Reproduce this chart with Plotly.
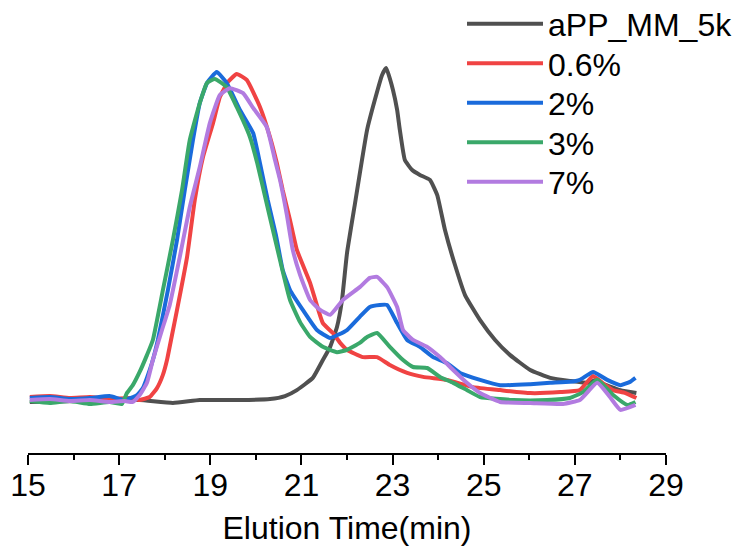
import plotly.graph_objects as go

# ---- data (elution time in min, normalized detector signal) ----
series_names = ["aPP_MM_5k", "0.6%", "2%", "3%", "7%"]
series_colors = ["#505050", "#F04343", "#1A6BDB", "#3AA86A", "#B27BE0"]

black_x = [15.04, 16.14, 16.57, 17.45, 18.18, 18.77, 19.65, 20.31, 20.64, 20.90, 21.25, 21.47, 21.63,
           21.78, 21.89, 22.00, 22.17, 22.44, 22.61, 22.77, 22.86, 23.01, 23.10, 23.16, 23.27, 23.43,
           23.60, 23.82, 23.98, 24.15, 24.37, 24.59, 24.92, 25.25, 25.58, 26.02, 26.46, 26.89, 27.33,
           27.45, 27.56, 28.00, 28.35]
black_y = [-0.006, -0.003, 0.0, 0.0, -0.009, 0.0, 0.0, 0.003, 0.012, 0.030, 0.067, 0.121, 0.161,
           0.221, 0.303, 0.445, 0.591, 0.818, 0.909, 0.985, 1.006, 0.939, 0.879, 0.818, 0.727, 0.697,
           0.682, 0.667, 0.621, 0.515, 0.409, 0.318, 0.242, 0.182, 0.136, 0.091, 0.067, 0.058, 0.052,
           0.061, 0.052, 0.030, 0.021]

red_x = [15.04, 15.48, 15.92, 16.36, 16.79, 17.23, 17.45, 17.67, 17.83, 17.96, 18.05, 18.16, 18.27,
         18.49, 18.66, 18.84, 19.06, 19.21, 19.39, 19.58, 19.80, 20.09, 20.31, 20.46, 20.59, 20.75,
         20.90, 21.19, 21.47, 21.69, 21.85, 22.00, 22.35, 22.66, 22.94, 23.32, 23.67, 24.19, 24.77,
         25.36, 26.02, 26.68, 27.11, 27.40, 27.67, 27.84, 28.11, 28.35]
red_y = [0.009, 0.012, 0.006, 0.009, 0.003, 0.006, 0.0, 0.009, 0.036, 0.076, 0.121, 0.197, 0.273,
         0.433, 0.606, 0.736, 0.839, 0.918, 0.964, 0.988, 0.970, 0.888, 0.797, 0.718, 0.636, 0.545,
         0.455, 0.355, 0.233, 0.203, 0.173, 0.152, 0.130, 0.130, 0.106, 0.082, 0.070, 0.061, 0.039,
         0.030, 0.021, 0.024, 0.030, 0.073, 0.045, 0.030, 0.021, 0.006]

blue_x = [15.04, 15.48, 15.92, 16.36, 16.79, 17.12, 17.39, 17.52, 17.61, 17.72, 17.85, 18.07, 18.27,
          18.44, 18.62, 18.77, 18.93, 19.14, 19.36, 19.65, 19.94, 20.09, 20.26, 20.44, 20.59, 20.75,
          21.03, 21.34, 21.63, 22.00, 22.28, 22.50, 22.72, 22.88, 23.10, 23.32, 23.60, 23.89, 24.19,
          24.48, 24.92, 25.36, 26.02, 26.46, 26.89, 27.11, 27.40, 27.71, 28.00, 28.21, 28.33]
blue_y = [0.006, 0.009, 0.003, 0.006, 0.012, 0.0, 0.015, 0.036, 0.067, 0.112, 0.182, 0.333, 0.485,
          0.636, 0.788, 0.900, 0.961, 0.994, 0.961, 0.879, 0.809, 0.718, 0.606, 0.500, 0.394, 0.333,
          0.273, 0.212, 0.188, 0.212, 0.252, 0.282, 0.288, 0.288, 0.233, 0.182, 0.161, 0.130, 0.112,
          0.082, 0.061, 0.045, 0.048, 0.052, 0.055, 0.061, 0.085, 0.061, 0.045, 0.055, 0.067]

green_x = [15.04, 15.48, 15.92, 16.36, 16.79, 17.06, 17.17, 17.30, 17.45, 17.61, 17.74, 17.96, 18.18,
           18.38, 18.55, 18.77, 18.93, 19.10, 19.36, 19.58, 19.87, 20.03, 20.22, 20.40, 20.53, 20.75,
           20.97, 21.19, 21.47, 21.78, 22.00, 22.28, 22.44, 22.66, 22.94, 23.23, 23.45, 23.76, 24.04,
           24.33, 24.63, 24.92, 25.65, 26.39, 26.89, 27.18, 27.49, 27.84, 28.15, 28.33]
green_y = [-0.003, -0.009, -0.003, -0.012, -0.006, -0.012, 0.021, 0.045, 0.085, 0.136, 0.182, 0.333,
           0.485, 0.636, 0.788, 0.900, 0.961, 0.973, 0.948, 0.888, 0.797, 0.718, 0.606, 0.500, 0.424,
           0.303, 0.236, 0.191, 0.161, 0.145, 0.152, 0.173, 0.191, 0.203, 0.161, 0.121, 0.100, 0.097,
           0.070, 0.052, 0.030, 0.009, 0.0, 0.0, 0.006, 0.024, 0.061, 0.015, -0.015, -0.006]

purple_x = [15.04, 15.48, 15.92, 16.36, 16.79, 17.12, 17.30, 17.45, 17.61, 17.74, 17.94, 18.11, 18.33,
            18.55, 18.77, 18.99, 19.21, 19.43, 19.72, 19.94, 20.24, 20.42, 20.53, 20.68, 20.81, 20.97,
            21.19, 21.41, 21.63, 21.91, 22.28, 22.50, 22.66, 22.88, 23.10, 23.23, 23.45, 23.76, 24.04,
            24.33, 24.63, 24.92, 25.36, 26.02, 26.74, 27.11, 27.49, 27.77, 28.00, 28.33]
purple_y = [0.0, 0.003, -0.003, 0.0, -0.006, -0.003, -0.006, 0.015, 0.052, 0.121, 0.212, 0.288, 0.433,
            0.585, 0.706, 0.839, 0.924, 0.945, 0.930, 0.885, 0.827, 0.727, 0.667, 0.561, 0.455, 0.379,
            0.303, 0.273, 0.258, 0.303, 0.342, 0.370, 0.373, 0.342, 0.282, 0.212, 0.182, 0.161, 0.130,
            0.091, 0.052, 0.021, -0.006, -0.009, -0.012, 0.0, 0.052, 0.009, -0.030, -0.015]

x_ticks = [15, 17, 19, 21, 23, 25, 27, 29]
x_minor_ticks = [16, 18, 20, 22, 24, 26, 28]

series_x = [black_x, red_x, blue_x, green_x, purple_x]
series_y = [black_y, red_y, blue_y, green_y, purple_y]

font_family = "Arial, Liberation Sans, sans-serif"
W, H = 741, 553
legend_keys = ["legend", "legend2", "legend3", "legend4", "legend5"]

fig = go.Figure()
for i, (name, color, xs, ys) in enumerate(zip(series_names, series_colors, series_x, series_y)):
    fig.add_trace(go.Scatter(x=xs, y=ys, mode="lines", name=name, legend=legend_keys[i],
                             line=dict(color=color, width=4, shape="spline", smoothing=0.4)))

layout_legends = {}
for i, key in enumerate(legend_keys):
    layout_legends[key] = dict(
        x=462 / W, y=1 - (24 + 39.5 * i) / H, xref="container", yref="container",
        xanchor="left", yanchor="middle",
        font=dict(family=font_family, size=32, color="black"),
        bgcolor="rgba(0,0,0,0)", itemwidth=76, borderwidth=0)

fig.update_layout(
    width=W, height=H,
    margin=dict(l=28, r=75, t=20, b=100, autoexpand=False),
    plot_bgcolor="white", paper_bgcolor="white",
    font=dict(family=font_family, size=32, color="black"),
    showlegend=True,
    xaxis=dict(range=[15, 29], tickvals=x_ticks, ticktext=[str(t) for t in x_ticks],
               showline=True, linecolor="black", linewidth=1.5,
               ticks="outside", ticklen=10, tickwidth=1.5, tickcolor="black",
               ticklabelstandoff=-7,
               minor=dict(tickvals=x_minor_ticks, ticks="outside",
                          ticklen=5, tickwidth=1.5, tickcolor="black"),
               showgrid=False, zeroline=False,
               title=dict(text="Elution Time(min)", font=dict(size=32), standoff=14),
               tickfont=dict(size=32)),
    yaxis=dict(range=[-0.1606, 1.1515], visible=False, showgrid=False, zeroline=False),
    **layout_legends,
)

fig.write_html("out.html")
